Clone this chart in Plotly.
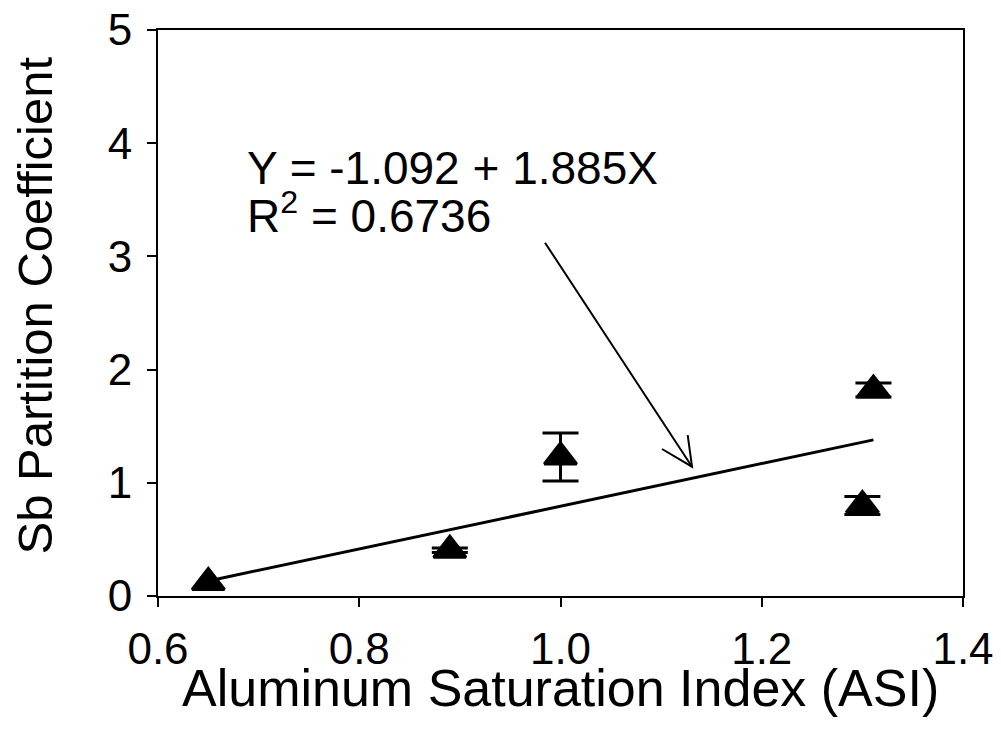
import plotly.graph_objects as go

# Data
asi = [0.65, 0.89, 1.00, 1.311, 1.30]
sb_pc = [0.12, 0.405, 1.228, 1.82, 0.80]
sb_err = [None, 0.02, 0.212, 0.062, 0.08]   # None = no error bar shown

# Regression
intercept = -1.092
slope = 1.885
fit_x = [0.65, 1.311]
fit_y = [intercept + slope * v for v in fit_x]

# Annotation arrow (data coordinates)
arrow_start = (0.9846, 3.121)
arrow_tip = (1.1307, 1.142)
arrow_arm1 = (1.1009, 1.2986)
arrow_arm2 = (1.1264, 1.422)

x_ticks = [0.6, 0.8, 1.0, 1.2, 1.4]
x_ticktext = ["0.6", "0.8", "1.0", "1.2", "1.4"]
y_ticks = [0, 1, 2, 3, 4, 5]

eq_line1 = "Y = -1.092 + 1.885X"
eq_line2 = "R<sup>2</sup> = 0.6736"

FONT = "Arial, Liberation Sans, sans-serif"

# points with error bars
eb_idx = [i for i, e in enumerate(sb_err) if e is not None]
eb_x = [asi[i] for i in eb_idx]
eb_y = [sb_pc[i] for i in eb_idx]
eb_e = [sb_err[i] for i in eb_idx]

fig = go.Figure()

fig.add_trace(go.Scatter(
    x=fit_x, y=fit_y, mode="lines",
    line=dict(color="black", width=3),
    showlegend=False, hoverinfo="skip",
))

# error bars only
fig.add_trace(go.Scatter(
    x=eb_x, y=eb_y, mode="markers",
    marker=dict(size=1, color="rgba(0,0,0,0)"),
    error_y=dict(type="data", array=eb_e, visible=True,
                 color="black", thickness=3, width=18),
    showlegend=False, hoverinfo="skip",
))

# markers
fig.add_trace(go.Scatter(
    x=asi, y=sb_pc, mode="markers",
    marker=dict(symbol="triangle-up", size=28, color="black",
                line=dict(color="black", width=3)),
    showlegend=False,
))

# Arrow
fig.add_shape(type="line", x0=arrow_start[0], y0=arrow_start[1],
              x1=arrow_tip[0], y1=arrow_tip[1],
              line=dict(color="black", width=2))
fig.add_shape(type="path",
              path=f"M {arrow_arm1[0]},{arrow_arm1[1]} L {arrow_tip[0]},{arrow_tip[1]} L {arrow_arm2[0]},{arrow_arm2[1]}",
              line=dict(color="black", width=2))

fig.add_annotation(
    x=0.686, y=3.78, xref="x", yref="y", text=eq_line1,
    showarrow=False, xanchor="left", yanchor="middle",
    font=dict(family=FONT, size=46, color="black"),
)
fig.add_annotation(
    x=0.686, y=3.38, xref="x", yref="y", text=eq_line2,
    showarrow=False, xanchor="left", yanchor="middle",
    font=dict(family=FONT, size=46, color="black"),
)

# Axis titles
fig.add_annotation(
    x=0.5, y=-0.163, xref="paper", yref="paper",
    text="Aluminum Saturation Index (ASI)", showarrow=False,
    xanchor="center", yanchor="middle",
    font=dict(family=FONT, size=52, color="black"),
)
fig.add_annotation(
    x=-0.153, y=0.513, xref="paper", yref="paper",
    text="Sb Partition Coefficient", showarrow=False, textangle=-90,
    xanchor="center", yanchor="middle",
    font=dict(family=FONT, size=49, color="black"),
)

fig.update_xaxes(
    range=[0.6, 1.4], tickvals=x_ticks, ticktext=x_ticktext,
    showgrid=False, zeroline=False, automargin=False,
    showline=True, linecolor="black", linewidth=2, mirror=True,
    ticks="outside", ticklen=9, tickwidth=2, tickcolor="black",
    ticklabelstandoff=4, ticklabeloverflow="allow",
    tickfont=dict(family=FONT, size=44, color="black"),
)
fig.update_yaxes(
    range=[0, 5], tickvals=y_ticks,
    showgrid=False, zeroline=False, automargin=False,
    showline=True, linecolor="black", linewidth=2, mirror=True,
    ticks="outside", ticklen=9, tickwidth=2, tickcolor="black",
    ticklabelstandoff=6, ticklabeloverflow="allow",
    tickfont=dict(family=FONT, size=44, color="black"),
)

fig.update_layout(
    width=993, height=734,
    margin=dict(l=150, r=38, t=22, b=146),
    plot_bgcolor="white", paper_bgcolor="white",
)

fig.write_html("out.html")
